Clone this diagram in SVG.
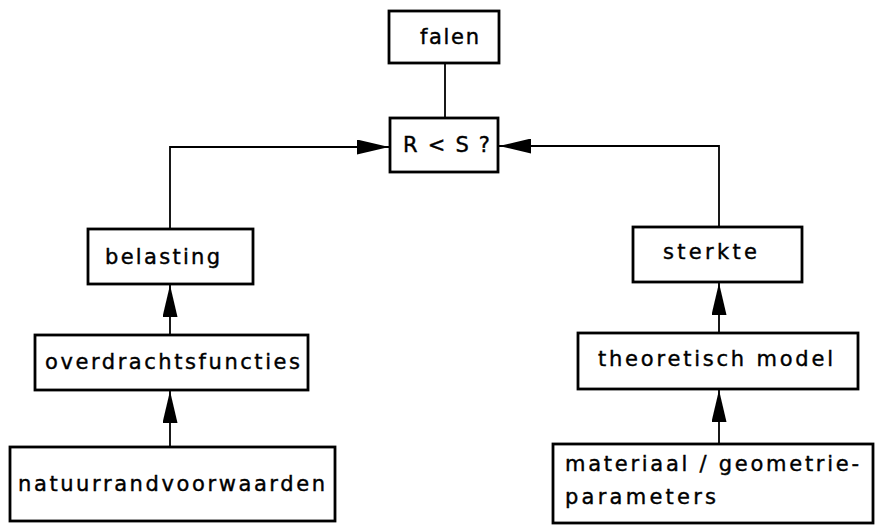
<svg xmlns="http://www.w3.org/2000/svg" width="877" height="526" viewBox="0 0 877 526">
<style>
.box{fill:#fff;stroke:#000;stroke-width:2.8}
.lbl{font-family:"DejaVu Sans","Liberation Sans",sans-serif;font-size:21px;fill:#000;stroke:#000;stroke-width:0.4}
.con{fill:none;stroke:#000;stroke-width:1.8}
</style>
<defs>
<marker id="ah" markerUnits="userSpaceOnUse" markerWidth="32" markerHeight="15" viewBox="0 0 32 15" refX="32" refY="7.5" orient="auto">
<path d="M0,0 L32,7.5 L0,15 z" fill="#000"/>
</marker>
</defs>
<rect width="877" height="526" fill="#fff"/>
<g id="connectors">
<path class="con" d="M445,63 V118"/>
<path class="con" d="M170,229 V147 H389" marker-end="url(#ah)"/>
<path class="con" d="M719,227 V146 H499" marker-end="url(#ah)"/>
<path class="con" d="M170,335 V285" marker-end="url(#ah)"/>
<path class="con" d="M170,447 V391" marker-end="url(#ah)"/>
<path class="con" d="M719,333 V283" marker-end="url(#ah)"/>
<path class="con" d="M719,444 V390" marker-end="url(#ah)"/>
</g>
<g id="falen">
<rect class="box" x="389" y="11" width="110" height="52"/>
<text class="lbl" x="420" y="44" textLength="59" lengthAdjust="spacing">falen</text>
</g>
<g id="rs">
<rect class="box" x="390" y="118" width="108" height="54"/>
<text class="lbl" x="403" y="152" textLength="87" lengthAdjust="spacing">R&lt;S?</text>
</g>
<g id="belasting">
<rect class="box" x="88" y="229" width="165" height="55"/>
<text class="lbl" x="105" y="264" textLength="115" lengthAdjust="spacing">belasting</text>
</g>
<g id="sterkte">
<rect class="box" x="633" y="227" width="169" height="55"/>
<text class="lbl" x="663" y="259" textLength="94" lengthAdjust="spacing">sterkte</text>
</g>
<g id="overdrachtsfuncties">
<rect class="box" x="35" y="335" width="273" height="55"/>
<text class="lbl" x="45" y="369" textLength="255" lengthAdjust="spacing">overdrachtsfuncties</text>
</g>
<g id="theoretisch">
<rect class="box" x="578" y="333" width="280" height="56"/>
<text class="lbl" x="598" y="366" textLength="235" lengthAdjust="spacing">theoretisch model</text>
</g>
<g id="natuurrandvoorwaarden">
<rect class="box" x="10" y="447" width="325" height="74"/>
<text class="lbl" x="18" y="491" textLength="307" lengthAdjust="spacing">natuurrandvoorwaarden</text>
</g>
<g id="materiaal">
<rect class="box" x="553" y="444" width="320" height="79"/>
<text class="lbl" x="565" y="471" textLength="294" lengthAdjust="spacing">materiaal / geometrie-</text>
<text class="lbl" x="565" y="504" textLength="151" lengthAdjust="spacing">parameters</text>
</g>
</svg>
